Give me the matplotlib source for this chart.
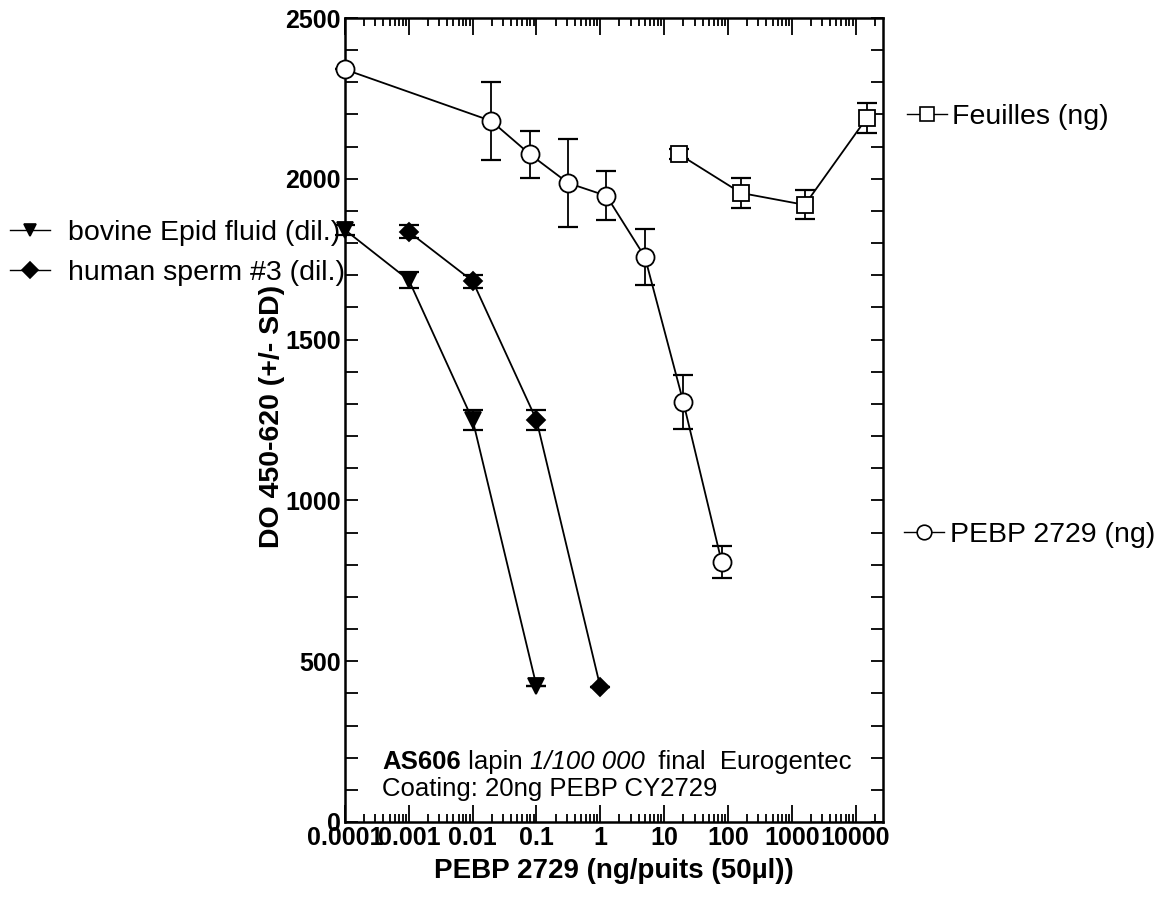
import matplotlib.pyplot as plt
from matplotlib.lines import Line2D
from matplotlib.ticker import FixedLocator, LogLocator, MultipleLocator, NullFormatter

plt.rcParams['font.family'] = ['Liberation Sans', 'DejaVu Sans']

# PEBP 2729 standard curve (ng)
pebp_x = [0.0001, 0.01953, 0.078125, 0.3125, 1.25, 5, 20, 80]
pebp_y = [2340, 2180, 2077, 1987, 1947, 1757, 1306, 808]
pebp_err = [0, 120, 73, 137, 76, 87, 84, 50]

# Feuilles (ng)
feuilles_x = [17, 160, 1600, 15000]
feuilles_y = [2077, 1956, 1919, 2189]
feuilles_err = [15, 46, 45, 48]

# bovine Epid fluid (dil.)
bovine_x = [0.0001, 0.001, 0.01, 0.1]
bovine_y = [1841, 1685, 1250, 423]
bovine_err = [15, 25, 32, 0]

# human sperm #3 (dil.)
human_x = [0.001, 0.01, 0.1, 1]
human_y = [1835, 1682, 1250, 420]
human_err = [20, 20, 30, 0]

xtick_vals = [0.0001, 0.001, 0.01, 0.1, 1, 10, 100, 1000, 10000]
xtick_labels = ['0.0001', '0.001', '0.01', '0.1', '1', '10', '100', '1000', '10000']

fig = plt.figure(figsize=(11.76, 9.01), dpi=100)
ax = fig.add_axes([0.2934, 0.0877, 0.4575, 0.8923])

series = [
    (pebp_x, pebp_y, pebp_err, 'o', 'white', 13),
    (feuilles_x, feuilles_y, feuilles_err, 's', 'white', 11.5),
    (bovine_x, bovine_y, bovine_err, 'v', 'black', 11),
    (human_x, human_y, human_err, 'D', 'black', 9.5),
]
for x, y, err, mk, fc, ms in series:
    ax.errorbar(x, y, yerr=err, fmt='none', ecolor='black', elinewidth=1.3,
                capsize=7, capthick=1.6, zorder=2, clip_on=False)
    ax.plot(x, y, '-', color='black', lw=1.3, marker=mk, markersize=ms,
            markerfacecolor=fc, markeredgecolor='black', markeredgewidth=1.3,
            zorder=3, clip_on=False)

ax.set_xscale('log')
ax.set_xlim(1e-4, 27000)
ax.set_ylim(0, 2500)

ax.xaxis.set_major_locator(FixedLocator(xtick_vals))
ax.set_xticklabels(xtick_labels)
ax.xaxis.set_minor_locator(LogLocator(base=10, subs=range(2, 10), numticks=20))
ax.xaxis.set_minor_formatter(NullFormatter())
ax.yaxis.set_major_locator(MultipleLocator(500))
ax.yaxis.set_minor_locator(MultipleLocator(100))

ax.tick_params(which='both', direction='in', top=True, right=True, width=1.3)
ax.tick_params(axis='x', which='major', length=12, pad=3)
ax.tick_params(axis='x', which='minor', length=6)
ax.tick_params(axis='y', which='both', length=9, pad=3)
for lab in ax.get_xticklabels() + ax.get_yticklabels():
    lab.set_fontweight('bold')
    lab.set_fontsize(18)

for sp in ax.spines.values():
    sp.set_linewidth(1.8)

ax.set_xlabel('PEBP 2729 (ng/puits (50µl))', fontsize=20, fontweight='bold', labelpad=6)
ax.set_ylabel('DO 450-620 (+/- SD)', fontsize=20.5, fontweight='bold')
ax.yaxis.set_label_coords(-0.112, 0.505)

# annotation, first line built from pieces (bold / normal / italic)
pieces = [('AS606', 'bold', 'normal'), (' lapin ', 'normal', 'normal'),
          ('1/100 000', 'normal', 'italic'), ('  final  Eurogentec', 'normal', 'normal')]
prev = ax.text(0.069, 0.075, pieces[0][0], transform=ax.transAxes, fontsize=18.5,
               fontweight=pieces[0][1], va='center', ha='left')
for txt, wt, st in pieces[1:]:
    prev = ax.annotate(txt, xy=(1, 0), xycoords=prev, va='bottom', ha='left',
                       fontsize=18.5, fontweight=wt, fontstyle=st)
ax.text(0.069, 0.041, 'Coating: 20ng PEBP CY2729',
        transform=ax.transAxes, fontsize=18.5, va='center', ha='left')


def handle(mk, fc, ms):
    return Line2D([], [], color='black', lw=1.0, marker=mk, markersize=ms,
                  markerfacecolor=fc, markeredgecolor='black', markeredgewidth=1.2)


leg_kw = dict(frameon=False, fontsize=20.5, borderpad=0, borderaxespad=0,
              handlelength=1.4, loc='center left', bbox_transform=fig.transFigure)

leg1 = ax.legend([handle('v', 'black', 9), handle('D', 'black', 8)],
                 ['bovine Epid fluid (dil.)', 'human sperm #3 (dil.)'],
                 bbox_to_anchor=(0.0085, 0.719), labelspacing=0.5,
                 handletextpad=0.65, **leg_kw)
ax.add_artist(leg1)
leg2 = ax.legend([handle('s', 'white', 10)], ['Feuilles (ng)'],
                 bbox_to_anchor=(0.771, 0.870), handletextpad=0.2, **leg_kw)
ax.add_artist(leg2)
ax.legend([handle('o', 'white', 10.5)], ['PEBP 2729 (ng)'],
          bbox_to_anchor=(0.769, 0.4064), handletextpad=0.2, **leg_kw)

fig.savefig('out.png', dpi=100)
